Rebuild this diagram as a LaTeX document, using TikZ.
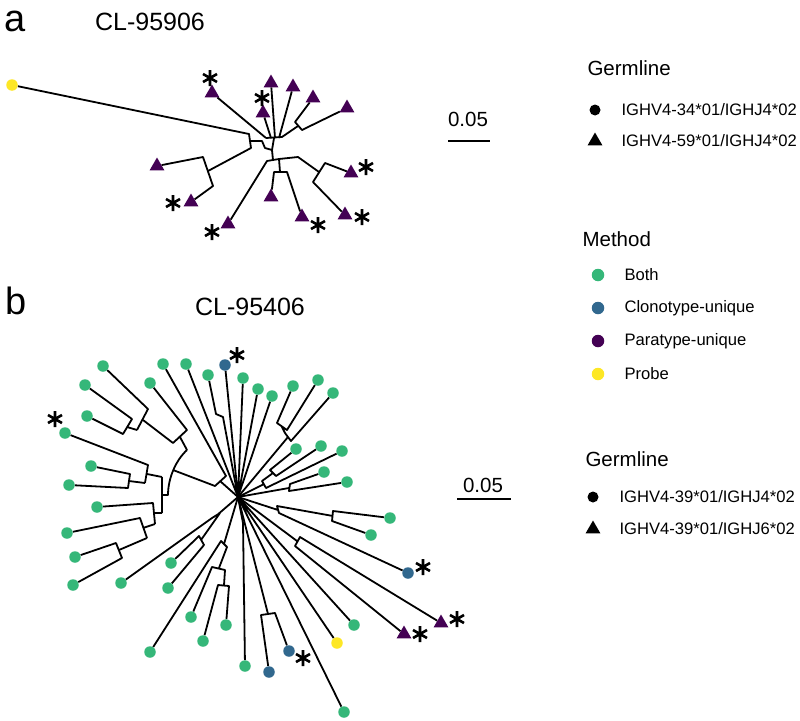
\documentclass[tikz,border=0pt]{standalone}
\usepackage{fontspec}
\setmainfont{Liberation Sans}
\usetikzlibrary{shapes.geometric, backgrounds}
\definecolor{bothc}{HTML}{35B779}
\definecolor{clonoc}{HTML}{31688E}
\definecolor{parac}{HTML}{440154}
\definecolor{probec}{HTML}{FDE725}
\tikzset{asterisk/.pic={\draw[line width=2.6pt] (0,-8) -- (0,8) (-7,-4) -- (7,4) (-7,4) -- (7,-4);}}

\begin{document}
\begin{tikzpicture}[x=1pt, y=-1pt,
        branch/.style={line width=1.8pt, line join=round},
        tipdot/.style={circle, inner sep=0pt, minimum size=11.5pt},
        both/.style={tipdot, fill=bothc},
        clono/.style={tipdot, fill=clonoc},
        probe/.style={tipdot, fill=probec},
        para/.style={regular polygon, regular polygon sides=3, inner sep=0pt, minimum size=17pt, fill=parac},
        panel/.style={anchor=base west, inner sep=0pt, font=\fontsize{38}{40}\selectfont},
        title/.style={font=\fontsize{25}{28}\selectfont},
        legtitle/.style={anchor=west, font=\fontsize{20.5}{23}\selectfont},
        legtext/.style={anchor=west, font=\fontsize{16.6}{19}\selectfont},
        legdot/.style={circle, inner sep=0pt, minimum size=12.5pt},
        legtri/.style={regular polygon, regular polygon sides=3, inner sep=0pt, minimum size=17pt, fill=black}
    ]
    \useasboundingbox (0,0) rectangle (800,720);

    % panel a
    \node[panel] (pa) at (4,31) {a};
    \node[title] (ta) at (150,22) {CL-95906};
    \node[probe] (ay) at (12,85) {};
    \node[para] (a1) at (212,93) {};
    \node[para] (a2) at (263,113) {};
    \node[para] (a3) at (271,83) {};
    \node[para] (a4) at (293,87) {};
    \node[para] (a5) at (313,98) {};
    \node[para] (a6) at (347,108) {};
    \node[para] (a7) at (157,166) {};
    \node[para] (a8) at (191,202) {};
    \node[para] (a9) at (228,224) {};
    \node[para] (a10) at (271,197) {};
    \node[para] (a11) at (302,217) {};
    \node[para] (a12) at (351,173) {};
    \node[para] (a13) at (345,215) {};
    \foreach \x/\y in {210/78, 262/98, 173/203, 212/232, 318/225, 366/167, 362/217}
        \pic at (\x,\y) {asterisk};

    \foreach \n/\x/\y in {ka1/249/134, ka2/251/148, ka3/250/141, kl1/203/157, kl2/213/186, kl3/208/171,
        kz1/262/141, kz2/265/148, kz3/272/150, ku1/266/138, ku2/282/137, ku3/274/138,
        ku4/271/138, ku5/275/138, ku6/279/138, kr1/295/122, kr2/302/130, kr3/298/126,
        kd1/267/161, kd2/274/172, kd3/287/172, kd4/280/172, kd5/279/159, kd6/273/160,
        ke1/325/163, ke2/313/182, ke3/319/172, ke4/298/157}
        \coordinate (\n) at (\x,\y);

    \begin{scope}[on background layer]
        \draw[branch] (ay) -- (ka1) -- (ka2) -- (kl3);
        \draw[branch] (a7) -- (kl1) -- (kl2) -- (a8);
        \draw[branch] (ka3) -- (kz1) -- (kz2) -- (kz3) -- (ku3);
        \draw[branch] (ku1) -- (ku2) -- (kr3);
        \draw[branch] (a1) -- (ku1) (a2) -- (ku4) (a3) -- (ku5) (a4) -- (ku6);
        \draw[branch] (a5) -- (kr1) -- (kr2) -- (a6);
        \draw[branch] (a10) -- (kd2) -- (kd3) -- (a11) (kd4) -- (kd5);
        \draw[branch] (a9) -- (kd1) -- (kd5) (kd6) -- (kz3);
        \draw[branch] (a12) -- (ke1) -- (ke2) -- (a13) (ke3) -- (ke4) -- (kd5);
    \end{scope}

    \node (sa) at (468,119) {\fontsize{20.5}{23}\selectfont 0.05};
    \draw[line width=1.5pt] (448,141) -- (490,141);

    % panel b
    \node[panel] (pb) at (5,314) {b};
    \node[title] (tb) at (250,307) {CL-95406};
    \node[both] (b1) at (103,366) {};
    \node[both] (b2) at (85,385) {};
    \node[both] (b3) at (87,416) {};
    \node[both] (b4) at (150,383) {};
    \node[both] (b5) at (65,433) {};
    \node[both] (b6) at (91,466) {};
    \node[both] (b7) at (69,485) {};
    \node[both] (b8) at (97,507) {};
    \node[both] (b9) at (67,533) {};
    \node[both] (b10) at (75,557) {};
    \node[both] (b11) at (73,585) {};
    \node[both] (b12) at (163,364) {};
    \node[both] (b13) at (186,364) {};
    \node[both] (b14) at (208,375) {};
    \node[clono] (b15) at (225,365) {};
    \node[both] (b16) at (243,378) {};
    \node[both] (b17) at (258,389) {};
    \node[both] (b18) at (272,396) {};
    \node[both] (b19) at (293,386) {};
    \node[both] (b20) at (318,380) {};
    \node[both] (b21) at (333,393) {};
    \node[both] (b22) at (296,449) {};
    \node[both] (b23) at (321,446) {};
    \node[both] (b24) at (342,451) {};
    \node[both] (b25) at (324,472) {};
    \node[both] (b26) at (347,482) {};
    \node[both] (b27) at (390,518) {};
    \node[both] (b28) at (371,535) {};
    \node[clono] (b29) at (408,573) {};
    \node[para] (b30) at (441,623) {};
    \node[para] (b31) at (404,634) {};
    \node[both] (b32) at (354,625) {};
    \node[probe] (b33) at (337,643) {};
    \node[clono] (b34) at (289,651) {};
    \node[clono] (b35) at (269,672) {};
    \node[both] (b36) at (245,666) {};
    \node[both] (b37) at (344,712) {};
    \node[both] (b38) at (121,583) {};
    \node[both] (b39) at (171,563) {};
    \node[both] (b40) at (168,588) {};
    \node[both] (b41) at (150,652) {};
    \node[both] (b42) at (191,617) {};
    \node[both] (b43) at (203,641) {};
    \node[both] (b44) at (226,625) {};
    \foreach \x/\y in {55/419, 237/355, 423/567, 457/619, 420/634, 303/658}
        \pic at (\x,\y) {asterisk};

    \foreach \n/\x/\y in {kR/238/497, k1/148/409, k2/132/419, k3/123/434, k4/127/427, k5/137/430,
        k6/143/420, k7/173/443, k8/187/430, k9/180/437, k10/187/450, k11/168/495, k12/162/495,
        k13/162/477, k14/162/513, k15/148/465, k16/130/474, k17/128/488, k18/129/481, k19/145/483,
        k20/147/474, k21/153/503, k22/140/518, k23/116/543, k24/122/558, k25/119/550, k26/147/538,
        k27/143/528, k28/155/524, k29/154/513, k30/173/470, k31/215/486, k32/226/476, k33/220/481,
        k35/216/414, k36/223/417, k41/277/423, k42/287/430, k43/282/427, k44/285/433, k45/291/441,
        k46/288/437, k47/270/470, k48/276/476, k49/273/473, k50/262/481, k51/266/488, k52/264/484,
        k53/290/484, k54/289/491, k55/289/488, k56/333/511, k57/332/521, k58/333/516, k59/277/506,
        k60/279/513, k61/278/510, k62/300/537, k63/295/546, k64/297/541, k67/275/613, k68/261/615,
        k69/268/614, k70/243/523, k72/212/518, k73/199/536, k74/204/545, k75/201/540, k76/220/513,
        k77/216/516, k78/221/541, k79/212/567, k80/218/585, k81/229/586, k82/224/585, k83/225/570,
        k84/219/568, k85/227/547, k86/224/544}
        \coordinate (\n) at (\x,\y);

    \begin{scope}[on background layer]
        % left clade
        \draw[branch] (b1) -- (k1) -- (k5) (b2) -- (k2) -- (k3) -- (b3) (k4) -- (k5);
        \draw[branch] (k6) -- (k7) -- (k8) -- (b4) (k9) -- (k10);
        \draw[branch] (k10) .. controls (176,460) and (168,478) .. (k11) -- (k12);
        \draw[branch] (k13) -- (k14);
        \draw[branch] (b5) -- (k15) -- (k19) (b6) -- (k16) -- (k17) -- (b7) (k18) -- (k19) (k20) -- (k13);
        \draw[branch] (b8) -- (k21) -- (k28) (b9) -- (k22) -- (k26) (b10) -- (k23) -- (k24) -- (b11);
        \draw[branch] (k25) -- (k26) (k27) -- (k28) (k29) -- (k14);
        \draw[branch] (k30) -- (k31) -- (k32) -- (b12) (k33) -- (kR);
        % upper fan
        \draw[branch] (b13) -- (kR) (b14) -- (k35) -- (k36) -- (kR);
        \draw[branch] (b15) -- (kR) (b16) -- (kR) (b17) -- (kR) (b18) -- (kR);
        \draw[branch] (b19) -- (k41) -- (k42) -- (b20) (k43) -- (k44) -- (k45) -- (b21) (k46) -- (kR);
        \draw[branch] (b22) -- (k47) -- (k48) -- (b23) (k49) -- (k50) -- (k51) -- (b24) (k52) -- (kR);
        \draw[branch] (b25) -- (k53) -- (k54) -- (b26) (k55) -- (kR);
        % right and lower fan
        \draw[branch] (b27) -- (k56) -- (k57) -- (b28) (k58) -- (k59) -- (k60) -- (b29) (k61) -- (kR);
        \draw[branch] (b30) -- (k62) -- (k63) -- (b31) (k64) -- (kR);
        \draw[branch] (b32) -- (kR) (b33) -- (kR) (b37) -- (kR);
        \draw[branch] (b34) -- (k67) -- (k68) -- (b35) (k69) -- (kR);
        \draw[branch] (b36) -- (k70) -- (kR);
        \draw[branch] (b38) -- (k72) -- (k76) -- (k75) (b39) -- (k73) -- (k74) -- (b40) (k77) -- (kR);
        \draw[branch] (b41) -- (k78) -- (k85) -- (k84) (b42) -- (k79) -- (k83) -- (k82);
        \draw[branch] (b43) -- (k80) -- (k81) -- (b44) (k86) -- (kR);
    \end{scope}

    \node (sb) at (483,485) {\fontsize{20.5}{23}\selectfont 0.05};
    \draw[line width=1.5pt] (457,499) -- (511,499);

    % legends
    \node[legtitle] (g1) at (584,68) {Germline};
    \node[legdot, fill=black, minimum size=11pt] (g1c) at (595,110) {};
    \node[legtext] (g1ct) at (618,110) {IGHV4-34*01/IGHJ4*02};
    \node[legtri] (g1t) at (595,141) {};
    \node[legtext] (g1tt) at (618,141) {IGHV4-59*01/IGHJ4*02};

    \node[legtitle] (mt) at (579,239) {Method};
    \node[legdot, fill=bothc] (m1) at (598,275) {};
    \node[legtext] (m1t) at (621,275) {Both};
    \node[legdot, fill=clonoc] (m2) at (598,308) {};
    \node[legtext] (m2t) at (621,308) {Clonotype-unique};
    \node[legdot, fill=parac] (m3) at (598,341) {};
    \node[legtext] (m3t) at (621,341) {Paratype-unique};
    \node[legdot, fill=probec] (m4) at (598,374) {};
    \node[legtext] (m4t) at (621,374) {Probe};

    \node[legtitle] (g2) at (582,459) {Germline};
    \node[legdot, fill=black, minimum size=11pt] (g2c) at (593,497) {};
    \node[legtext] (g2ct) at (616,497) {IGHV4-39*01/IGHJ4*02};
    \node[legtri] (g2t) at (593,529) {};
    \node[legtext] (g2tt) at (616,529) {IGHV4-39*01/IGHJ6*02};
\end{tikzpicture}
\end{document}
